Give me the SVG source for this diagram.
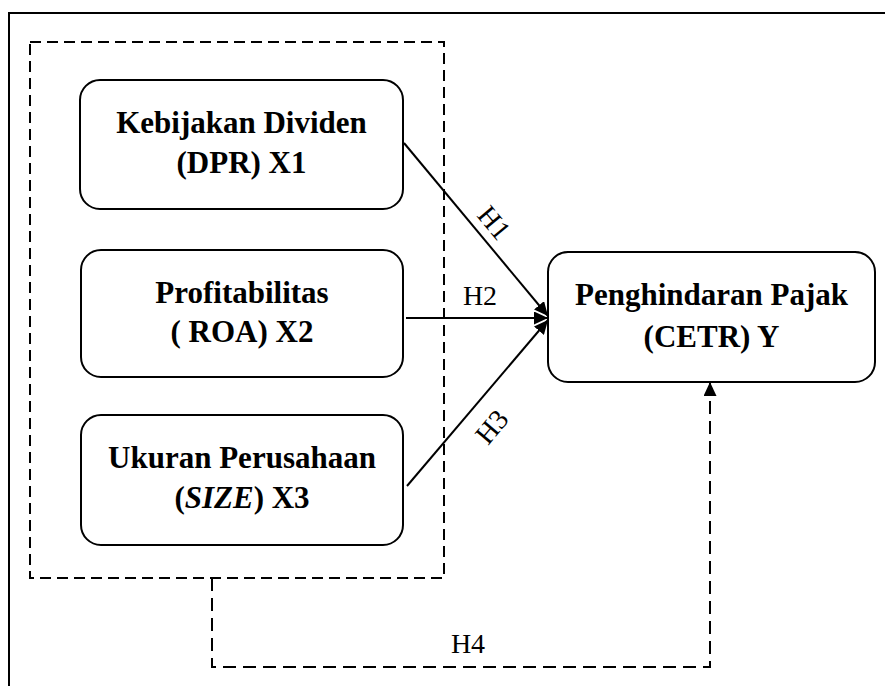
<svg xmlns="http://www.w3.org/2000/svg" width="885" height="686" viewBox="0 0 885 686">
<style>
.box{fill:#fff;stroke:#000;stroke-width:2}
.t{font-family:"Liberation Serif","Times New Roman",serif;font-size:31px;font-weight:bold;text-anchor:middle;fill:#000}
.lbl{font-family:"Liberation Serif","Times New Roman",serif;font-size:28px;text-anchor:middle;fill:#000}
.ln{fill:none;stroke:#000;stroke-width:2}
.dash{fill:none;stroke:#000;stroke-width:2;stroke-dasharray:11 6}
.dash2{fill:none;stroke:#000;stroke-width:2;stroke-dasharray:13 7}
</style>
<defs>
<marker id="ah" viewBox="0 0 14 13" refX="14" refY="6.5" markerWidth="14" markerHeight="13" markerUnits="userSpaceOnUse" orient="auto">
<path d="M0,0 L14,6.5 L0,13 Z" fill="#000"/>
</marker>
</defs>
<rect width="885" height="686" fill="#fff"/>
<path d="M9,686 V13 H885" fill="none" stroke="#000" stroke-width="2"/>
<g id="group-box"><rect x="30" y="42" width="414" height="536" class="dash"/></g>
<g id="connectors">
<line x1="404" y1="143" x2="548" y2="316" class="ln" marker-end="url(#ah)"/>
<line x1="406" y1="318" x2="548" y2="318" class="ln" marker-end="url(#ah)"/>
<line x1="407" y1="486" x2="548" y2="320" class="ln" marker-end="url(#ah)"/>
<path d="M212,578 V667 H710 V396" class="dash2"/>
<line x1="710" y1="396" x2="710" y2="382" class="ln" marker-end="url(#ah)"/>
<text class="lbl" transform="translate(494,223) rotate(50)" dy="9">H1</text>
<text class="lbl" x="480" y="305">H2</text>
<text class="lbl" transform="translate(492,427) rotate(-50)" dy="9">H3</text>
<text class="lbl" x="468" y="653">H4</text>
</g>
<g id="x1">
<rect x="80" y="80" width="323" height="129" rx="20" class="box"/>
<text class="t" x="241.5" y="133">Kebijakan Dividen</text>
<text class="t" x="241.5" y="173">(DPR) X1</text>
</g>
<g id="x2">
<rect x="81" y="250" width="322" height="127" rx="20" class="box"/>
<text class="t" x="242" y="303">Profitabilitas</text>
<text class="t" x="242" y="342">( ROA) X2</text>
</g>
<g id="x3">
<rect x="81" y="415" width="322" height="130" rx="20" class="box"/>
<text class="t" x="242" y="468">Ukuran Perusahaan</text>
<text class="t" x="242" y="508">(<tspan font-style="italic">SIZE</tspan>) X3</text>
</g>
<g id="y">
<rect x="548" y="252" width="327" height="130" rx="20" class="box"/>
<text class="t" x="711.5" y="305">Penghindaran Pajak</text>
<text class="t" x="711.5" y="347">(CETR) Y</text>
</g>
</svg>
